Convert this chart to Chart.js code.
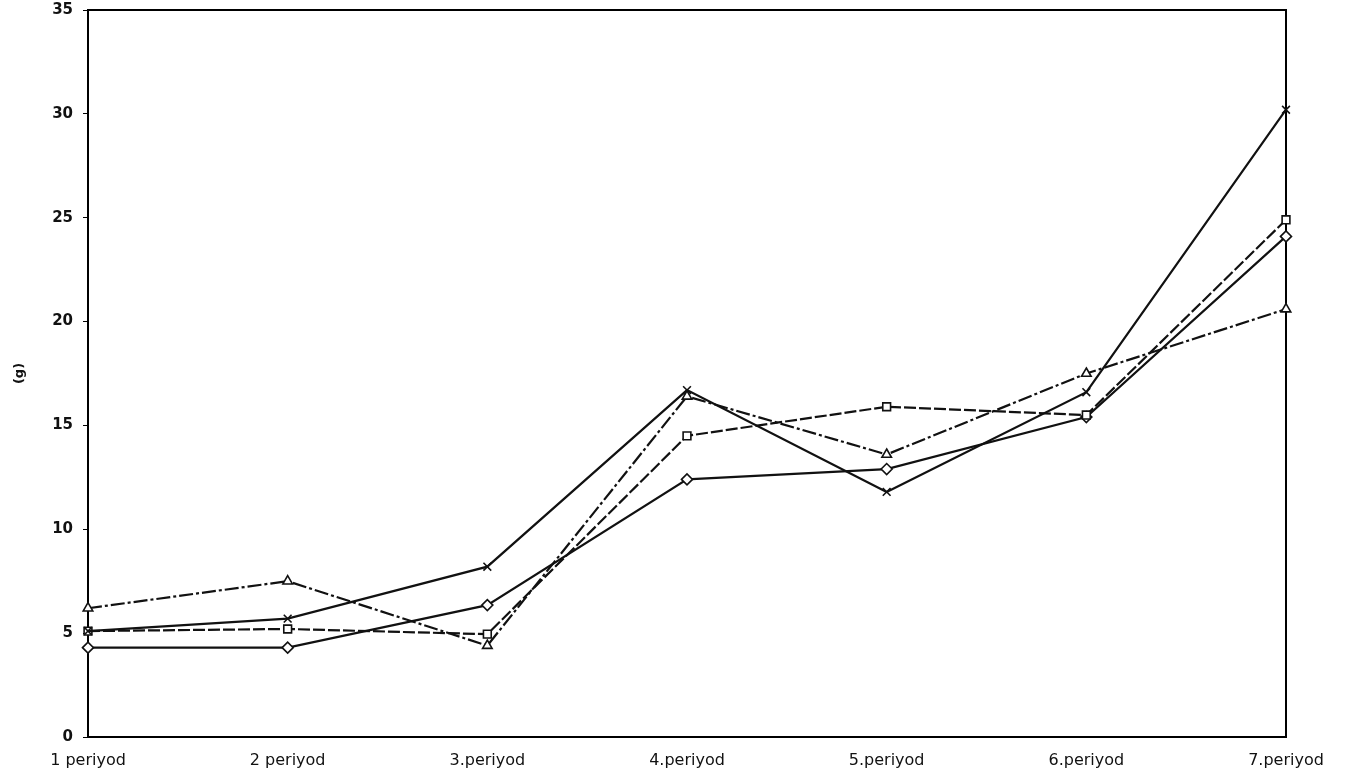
<!DOCTYPE html>
<html>
<head>
<meta charset="utf-8">
<script src="https://cdn.jsdelivr.net/npm/chart.js@4.4.1/dist/chart.umd.min.js"></script>
<style>
  html, body { margin: 0; padding: 0; background: #fff; }
  #wrap { width: 1351px; height: 778px; }
</style>
</head>
<body>
<div id="wrap"><canvas id="chart"></canvas></div>
<script>
// Period labels along the bottom
const periods = ["1 periyod", "2 periyod", "3.periyod", "4.periyod", "5.periyod", "6.periyod", "7.periyod"];

// Values, (g)
const seriesTriangle = [6.2, 7.5, 4.4, 16.4, 13.6, 17.5, 20.6];
const seriesCross    = [5.1, 5.7, 8.2, 16.7, 11.8, 16.6, 30.2];
const seriesSquare   = [5.1, 5.2, 4.95, 14.5, 15.9, 15.5, 24.9];
const seriesDiamond  = [4.3, 4.3, 6.35, 12.4, 12.9, 15.4, 24.1];

const yMin = 0, yMax = 35, yStep = 5;
const yTitle = "(g)";

// box round the plot area
const frame = {
  id: "frame",
  beforeDatasetsDraw(chart) {
    const a = chart.chartArea, ctx = chart.ctx;
    ctx.save();
    ctx.strokeStyle = "#000";
    ctx.lineWidth = 2;
    ctx.strokeRect(a.left, a.top, a.right - a.left, a.bottom - a.top);
    ctx.restore();
  }
};

function line(data, style, dash) {
  return {
    data: data,
    borderColor: "#111",
    borderWidth: 2.2,
    borderDash: dash || [],
    pointStyle: style,
    pointRadius: 5.5,
    pointBorderWidth: 1.6,
    pointBorderColor: "#111",
    pointBackgroundColor: "#fff",
    tension: 0,
    fill: false
  };
}

new Chart(document.getElementById("chart"), {
  type: "line",
  data: {
    labels: periods,
    datasets: [
      line(seriesTriangle, "triangle", [14, 3, 3, 3]),
      line(seriesCross, "crossRot"),
      line(seriesSquare, "rect", [12, 3]),
      line(seriesDiamond, "rectRot")
    ]
  },
  options: {
    responsive: true,
    maintainAspectRatio: false,
    animation: false,
    layout: { padding: { top: 0, right: 65, bottom: 0, left: 0 } },
    plugins: {
      legend: { display: false },
      tooltip: { enabled: false }
    },
    scales: {
      x: {
        offset: false,
        grid: { display: false },
        border: { display: true, color: "#000", width: 2 },
        ticks: {
          color: "#111",
          padding: 6,
          maxRotation: 0,
          autoSkip: false,
          font: { family: "DejaVu Sans", size: 16 }
        },
        afterFit(scale) { scale.height = 41; }
      },
      y: {
        min: yMin,
        max: yMax,
        grid: { display: true, drawOnChartArea: false, drawTicks: true, tickLength: 5, color: "#000" },
        border: { display: true, color: "#000", width: 2 },
        ticks: {
          stepSize: yStep,
          color: "#111",
          padding: 10,
          font: { family: "DejaVu Sans", size: 15, weight: "bold" }
        },
        title: {
          display: true,
          text: yTitle,
          color: "#111",
          padding: { top: 12, bottom: 0 },
          font: { family: "DejaVu Sans", size: 13, weight: "bold" }
        },
        afterFit(scale) {
          scale.width = 88;
          scale.paddingTop = 10;
        }
      }
    }
  },
  plugins: [frame]
});
</script>
</body>
</html>
